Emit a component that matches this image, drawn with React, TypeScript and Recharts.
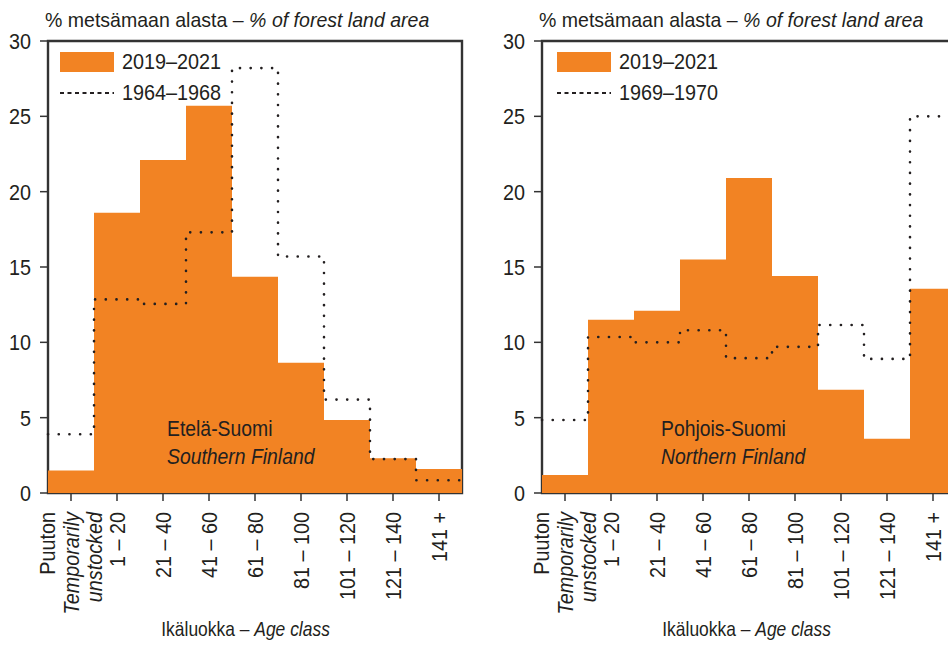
import {
  Bar,
  ComposedChart,
  Legend,
  Line,
  ReferenceArea,
  XAxis,
  YAxis,
} from "recharts";

const ageClasses = [
  "Puuton",
  "1 – 20",
  "21 – 40",
  "41 – 60",
  "61 – 80",
  "81 – 100",
  "101 – 120",
  "121 – 140",
  "141 +",
];
const yTicks = [0, 5, 10, 15, 20, 25, 30];

// Etelä-Suomi
const southNow = [1.5, 18.6, 22.1, 25.7, 14.35, 8.65, 4.85, 2.3, 1.6];
const south1964 = [3.9, 12.85, 12.55, 17.3, 28.2, 15.7, 6.2, 2.25, 0.85];
// Pohjois-Suomi
const northNow = [1.2, 11.5, 12.1, 15.5, 20.9, 14.4, 6.85, 3.6, 13.55];
const north1969 = [4.85, 10.35, 10.0, 10.8, 8.95, 9.7, 11.15, 8.9, 25.0];

const FONT = '"Liberation Sans", Arial, sans-serif';
const ORANGE = "#f28323";
const INK = "#231f20";
const FRAME = "#333333";

// the original uses a condensed face; squeeze the installed one a little
function Narrow({ k, origin = "left", children }: any) {
  return (
    <span
      style={{
        display: "inline-block",
        transform: `scaleX(${k})`,
        transformOrigin: origin,
        whiteSpace: "nowrap",
      }}
    >
      {children}
    </span>
  );
}

function AgeTick({ x, y, payload }: any) {
  const lines: [string, boolean][] =
    payload.value === "Puuton"
      ? [
          ["Puuton", false],
          ["Temporarily", true],
          ["unstocked", true],
        ]
      : [[payload.value, false]];
  const mid = (lines.length - 1) / 2;
  return (
    <g transform={`translate(${x},${y}) rotate(-90) scale(0.9,1)`}>
      {lines.map(([text, italic], i) => (
        <text
          key={i}
          x={0}
          y={(i - mid) * 23.5}
          dy="0.36em"
          textAnchor="end"
          fontSize={22}
          fontFamily={FONT}
          fontStyle={italic ? "italic" : "normal"}
          fill={INK}
        >
          {text}
        </text>
      ))}
    </g>
  );
}

function ValueTick({ x, y, payload }: any) {
  return (
    <g transform={`translate(${x},${y}) scale(0.9,1)`}>
      <text x={0} y={0} dy="0.36em" textAnchor="end" fontSize={22} fontFamily={FONT} fill={INK}>
        {payload.value}
      </text>
    </g>
  );
}

function PeriodLegend({ oldLabel }: { oldLabel: string }) {
  const row = { display: "flex", alignItems: "center", height: 31 };
  return (
    <div style={{ fontFamily: FONT, fontSize: 22, color: INK, lineHeight: "31px" }}>
      <div style={row}>
        <span style={{ width: 54, height: 20, background: ORANGE, marginRight: 8 }} />
        <Narrow k={0.9}>2019–2021</Narrow>
      </div>
      <div style={row}>
        <svg width={54} height={4} style={{ marginRight: 8 }}>
          <line x1={0} y1={2} x2={54} y2={2} stroke={INK} strokeWidth={2} strokeDasharray="4 3.5" />
        </svg>
        <Narrow k={0.9}>{oldLabel}</Narrow>
      </div>
    </div>
  );
}

function AgePanel({
  left,
  current,
  old,
  oldLabel,
  region,
  regionEn,
  legendLeft,
  labelCenter,
}: {
  left: number;
  current: number[];
  old: number[];
  oldLabel: string;
  region: string;
  regionEn: string;
  legendLeft: number;
  labelCenter: number;
}) {
  const data = ageClasses.map((name, i) => ({ name, value: current[i] }));
  // step line runs from the left edge of each class to its right edge
  const steps = old.map((v, i) => ({ x: i, v })).concat({ x: old.length, v: old[old.length - 1] });

  return (
    <div style={{ position: "absolute", left, top: 0, width: 474, height: 646 }}>
      <div
        style={{
          position: "absolute",
          left: 45,
          top: 8,
          fontSize: 21,
          lineHeight: "24px",
          color: INK,
        }}
      >
        <Narrow k={0.93}>
          % metsämaan alasta – <i>% of forest land area</i>
        </Narrow>
      </div>

      <ComposedChart
        width={474}
        height={646}
        data={data}
        margin={{ top: 41, right: 12, left: 0, bottom: 53 }}
        barCategoryGap={0}
        barGap={0}
      >
        <XAxis
          xAxisId="cat"
          dataKey="name"
          height={100}
          interval={0}
          axisLine={false}
          tickSize={8}
          tickMargin={11}
          tickLine={{ stroke: FRAME, strokeWidth: 1.5 }}
          tick={<AgeTick />}
        />
        <XAxis xAxisId="num" dataKey="x" type="number" domain={[0, 9]} hide />
        <YAxis
          domain={[0, 30]}
          ticks={yTicks}
          width={48}
          axisLine={false}
          tickSize={8}
          tickMargin={9}
          tickLine={{ stroke: FRAME, strokeWidth: 1.5 }}
          tick={<ValueTick />}
        />
        <Bar xAxisId="cat" dataKey="value" fill={ORANGE} isAnimationActive={false} />
        <Line
          xAxisId="num"
          data={steps}
          dataKey="v"
          type="stepAfter"
          stroke={INK}
          strokeWidth={2.6}
          strokeDasharray="0.1 10.6"
          strokeLinecap="round"
          dot={false}
          activeDot={false}
          isAnimationActive={false}
        />
        <ReferenceArea
          xAxisId="num"
          x1={0}
          x2={9}
          y1={0}
          y2={30}
          fill="none"
          fillOpacity={0}
          stroke={FRAME}
          strokeWidth={2.4}
          ifOverflow="visible"
        />
        <Legend
          layout="horizontal"
          verticalAlign="middle"
          align="center"
          wrapperStyle={{ left: legendLeft, top: 46, width: "auto" }}
          content={() => <PeriodLegend oldLabel={oldLabel} />}
        />
      </ComposedChart>

      <div
        style={{
          position: "absolute",
          left: 167,
          top: 415,
          fontSize: 22,
          lineHeight: "28px",
          color: INK,
        }}
      >
        <Narrow k={0.88}>{region}</Narrow>
        <br />
        <Narrow k={0.88}>
          <i>{regionEn}</i>
        </Narrow>
      </div>

      <div
        style={{
          position: "absolute",
          left: labelCenter - 150,
          width: 300,
          top: 617,
          textAlign: "center",
          fontSize: 21,
          lineHeight: "24px",
          color: INK,
        }}
      >
        <Narrow k={0.83} origin="center">
          Ikäluokka – <i>Age class</i>
        </Narrow>
      </div>
    </div>
  );
}

export default function App() {
  return (
    <div
      style={{
        position: "absolute",
        left: 0,
        top: 0,
        width: 948,
        height: 646,
        overflow: "hidden",
        background: "#fff",
        fontFamily: FONT,
      }}
    >
      <AgePanel
        left={0}
        current={southNow}
        old={south1964}
        oldLabel="1964–1968"
        region="Etelä-Suomi"
        regionEn="Southern Finland"
        legendLeft={60}
        labelCenter={246}
      />
      <AgePanel
        left={494}
        current={northNow}
        old={north1969}
        oldLabel="1969–1970"
        region="Pohjois-Suomi"
        regionEn="Northern Finland"
        legendLeft={63}
        labelCenter={253}
      />
    </div>
  );
}
